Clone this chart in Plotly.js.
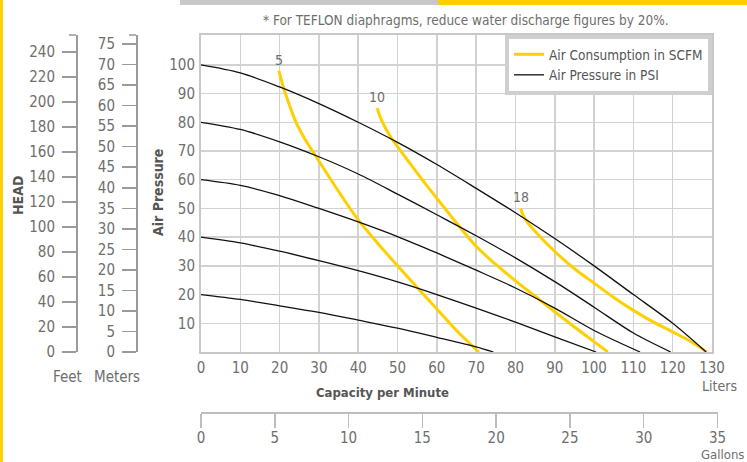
<!DOCTYPE html>
<html><head><meta charset="utf-8">
<script src="https://cdn.plot.ly/plotly-3.0.1.min.js"></script>
<style>html,body{margin:0;padding:0;background:#fff}#chart{width:747px;height:462px}</style>
</head><body><div id="chart"></div><script>
const FONT = "'Liberation Sans Narrow', 'DejaVu Sans Condensed', 'Roboto Condensed', sans-serif";
const GREY = '#6e6e6e';
const YELLOW = '#FFD000';

// Air pressure curves (capacity in liters/min, air pressure in PSI)
const cap20  = [0,10,20,30,40,50,60,70,74.4];
const psi20  = [20,18.3,16.1,13.8,11.1,8.3,5.1,1.8,0];
const cap40  = [0,10,20,30,40,50,60,70,80,90,100.5];
const psi40  = [40,38,35.1,31.8,28.3,24.4,20,15.3,10.4,5.3,0];
const cap60  = [0,10,20,30,40,50,60,70,80,90,100,111.7];
const psi60  = [60,58,54.5,50,45.3,40.2,34.5,28.5,22.3,15.3,7.5,0];
const cap80  = [0,10,20,30,40,50,60,70,80,90,100,110,119.5];
const psi80  = [80,77.5,73.2,68,62,55,47.8,40.5,32.8,24.5,15.6,6.6,0];
const cap100 = [0,10,20,30,40,50,60,70,80,90,100,110,120,128.5];
const psi100 = [100,97.2,92.3,86.5,80,73,65.3,57,48.5,39.5,30,20,10,0];

// Air consumption curves (SCFM)
const capScfm5  = [19.8,21,22.5,24,26.5,29.3,34,40,45,50,55,60,65,70.7];
const psiScfm5  = [98,92,86,80.5,74,68,58,46,37.8,30,22.5,15,7.5,0];
const capScfm10 = [44.8,46,48.2,50,53,56.3,60,63.5,70,75,80,85,90,95,100,103.5];
const psiScfm10 = [85,80.5,75,71.5,66,60,53.5,47.5,36.8,30.5,24.8,19.4,14,8.7,3.6,0];
const capScfm18 = [81.3,82,83.4,86,90,95,100,105,110,115,120,125,128.7];
const psiScfm18 = [50,47.5,44.5,40.5,35,29,24,19,14.5,10.5,7,3.3,0];

const psiCurves = [
  {cap: cap20, psi: psi20}, {cap: cap40, psi: psi40}, {cap: cap60, psi: psi60},
  {cap: cap80, psi: psi80}, {cap: cap100, psi: psi100}
];
const scfmCurves = [
  {label: '5', cap: capScfm5, psi: psiScfm5},
  {label: '10', cap: capScfm10, psi: psiScfm10},
  {label: '18', cap: capScfm18, psi: psiScfm18}
];

// Axis ticks
const literTicks = [0,10,20,30,40,50,60,70,80,90,100,110,120,130];
const gallonTicks = [0,5,10,15,20,25,30,35];
const psiTicks = [10,20,30,40,50,60,70,80,90,100];
const feetTicks = [0,20,40,60,80,100,120,140,160,180,200,220,240];
const meterTicks = [0,5,10,15,20,25,30,35,40,45,50,55,60,65,70,75];

const W = 747, H = 462;
const fx = p => p / W, fy = p => 1 - p / H;
const plotL = 201, plotR = 712, plotT = 35, plotB = 352;

const traces = [];
scfmCurves.forEach((c, i) => traces.push({
  type: 'scatter', mode: 'lines', x: c.cap, y: c.psi,
  line: {color: YELLOW, width: 3, shape: 'spline', smoothing: 0.9},
  name: 'Air Consumption in SCFM', legendgroup: 'scfm', showlegend: i === 0, legendrank: 1,
  hoverinfo: 'skip'
}));
psiCurves.forEach((c, i) => traces.push({
  type: 'scatter', mode: 'lines', x: c.cap, y: c.psi,
  line: {color: '#111', width: 1.3, shape: 'spline', smoothing: 0.9},
  name: 'Air Pressure in PSI', legendgroup: 'psi', showlegend: i === 0, legendrank: 2,
  hoverinfo: 'skip'
}));
// invisible carrier traces so the extra scales are drawn
traces.push({type: 'scatter', mode: 'markers', x: gallonTicks, y: gallonTicks.map(() => 0.5),
  xaxis: 'x2', yaxis: 'y4', marker: {opacity: 0}, showlegend: false, hoverinfo: 'skip'});
traces.push({type: 'scatter', mode: 'markers', x: feetTicks.map(() => 1), y: feetTicks,
  xaxis: 'x', yaxis: 'y2', marker: {opacity: 0}, showlegend: false, hoverinfo: 'skip'});
traces.push({type: 'scatter', mode: 'markers', x: meterTicks.map(() => 1), y: meterTicks,
  xaxis: 'x', yaxis: 'y3', marker: {opacity: 0}, showlegend: false, hoverinfo: 'skip'});

const tickFont = {family: FONT, size: 15, color: GREY};
const yDomain = [fy(plotB), fy(plotT)];

function note(text, px, py, extra) {
  return Object.assign({text: text, xref: 'paper', yref: 'paper', x: fx(px), y: fy(py),
    xanchor: 'center', yanchor: 'middle', showarrow: false, font: tickFont}, extra || {});
}

const layout = {
  width: W, height: H,
  margin: {l: 0, r: 0, t: 0, b: 0},
  paper_bgcolor: '#fff', plot_bgcolor: '#fff',
  font: {family: FONT, color: GREY},
  showlegend: true,
  legend: {x: fx(plotR), xanchor: 'right', y: fy(plotT), yanchor: 'top',
    bgcolor: '#fff', bordercolor: '#cfcfcf', borderwidth: 4,
    font: {family: FONT, size: 13.5, color: '#555'}, tracegroupgap: 0, traceorder: 'grouped'},
  xaxis: {domain: [fx(plotL), fx(plotR)], range: [0, 130], tickvals: literTicks,
    showgrid: true, gridcolor: '#d2d2d2', gridwidth: 1.5, zeroline: false,
    showline: true, mirror: true, linecolor: '#c8c8c8', linewidth: 2,
    ticks: '', tickfont: tickFont, ticklabelstandoff: 1, fixedrange: true},
  yaxis: {domain: yDomain, range: [0, 110.4], tickvals: psiTicks,
    showgrid: true, gridcolor: '#d2d2d2', gridwidth: 1.5, zeroline: false,
    showline: true, mirror: true, linecolor: '#c8c8c8', linewidth: 2,
    ticks: '', tickfont: tickFont, ticklabelstandoff: 1, fixedrange: true},
  yaxis2: {overlaying: 'y', anchor: 'free', position: fx(76), side: 'left',
    range: [0, 253.6], tickvals: feetTicks, showgrid: false, zeroline: false,
    showline: true, linecolor: '#9a9a9a', linewidth: 1.5,
    ticks: 'outside', ticklen: 14, tickwidth: 1.5, tickcolor: '#9a9a9a',
    tickfont: tickFont, ticklabelstandoff: 4, fixedrange: true},
  yaxis3: {overlaying: 'y', anchor: 'free', position: fx(136), side: 'left',
    range: [0, 77.2], tickvals: meterTicks, showgrid: false, zeroline: false,
    showline: true, linecolor: '#9a9a9a', linewidth: 1.5,
    ticks: 'outside', ticklen: 14, tickwidth: 1.5, tickcolor: '#9a9a9a',
    tickfont: tickFont, ticklabelstandoff: 4, fixedrange: true},
  xaxis2: {domain: [fx(plotL), fx(717.5)], range: [0, 35], tickvals: gallonTicks,
    anchor: 'free', position: 1 - 413 / H, side: 'bottom',
    showgrid: false, zeroline: false, showline: true, linecolor: '#bdbdbd', linewidth: 2,
    ticks: 'outside', ticklen: 14, tickwidth: 1.5, tickcolor: '#bdbdbd',
    tickfont: tickFont, ticklabelstandoff: -3, fixedrange: true},
  yaxis4: {domain: [0, 0.05], range: [0, 1], visible: false, fixedrange: true},
  shapes: [
    {type: 'rect', xref: 'paper', yref: 'paper', x0: 0, x1: fx(3), y0: 0, y1: 1, fillcolor: YELLOW, line: {width: 0}},
    {type: 'rect', xref: 'paper', yref: 'paper', x0: fx(180), x1: fx(438), y0: fy(5), y1: 1, fillcolor: '#c8c8c8', line: {width: 0}},
    {type: 'rect', xref: 'paper', yref: 'paper', x0: fx(438), x1: 1, y0: fy(5), y1: 1, fillcolor: YELLOW, line: {width: 0}},
    {type: 'line', xref: 'paper', yref: 'paper', x0: fx(69), x1: fx(76), y0: fy(plotT), y1: fy(plotT), line: {color: '#9a9a9a', width: 1.5}},
    {type: 'line', xref: 'paper', yref: 'paper', x0: fx(129), x1: fx(136), y0: fy(plotT), y1: fy(plotT), line: {color: '#9a9a9a', width: 1.5}}
  ],
  annotations: [
    note('* For TEFLON diaphragms, reduce water discharge figures by 20%.', 466, 20, {font: {family: FONT, size: 13.5, color: GREY}}),
    note('<b>HEAD</b>', 18, 196, {textangle: -90, font: {family: FONT, size: 14, color: '#555'}}),
    note('<b>Air Pressure</b>', 158, 193, {textangle: -90, font: {family: FONT, size: 14, color: '#555'}}),
    note('<b>Capacity per Minute</b>', 382, 392, {font: {family: FONT, size: 13, color: '#555'}}),
    note('Feet', 67, 377),
    note('Meters', 117, 377),
    note('Liters', 739, 386, {xanchor: 'right', font: {family: FONT, size: 14, color: GREY}}),
    note('Gallons', 746, 454, {xanchor: 'right', font: {family: FONT, size: 13, color: GREY}})
  ].concat(scfmCurves.map(c => ({
    text: c.label, x: c.cap[0], y: c.psi[0], xref: 'x', yref: 'y', showarrow: false,
    xanchor: 'center', yanchor: 'bottom', yshift: 1, font: {family: FONT, size: 14, color: GREY}
  })))
};

Plotly.newPlot('chart', traces, layout, {staticPlot: true, displayModeBar: false});
</script></body></html>
